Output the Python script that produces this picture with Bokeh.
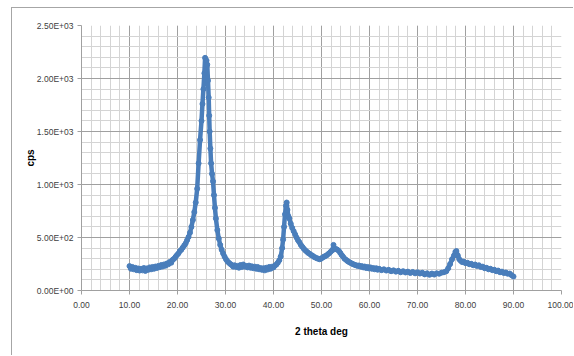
from bokeh.plotting import figure
from bokeh.models import FixedTicker, Range1d
from bokeh.embed import file_html
from bokeh.resources import INLINE

two_theta = [
    10.0, 10.3, 10.6, 10.9, 11.2, 11.5, 11.8, 12.1, 12.4, 12.7, 13.0, 13.3, 13.6, 13.9,
    14.2, 14.5, 14.8, 15.1, 15.4, 15.7, 16.0, 16.3, 16.6, 16.9, 17.2, 17.5, 17.8, 18.1,
    18.4, 18.7, 19.0, 19.3, 19.6, 19.9, 20.2, 20.5, 20.8, 21.1, 21.4, 21.7, 22.0, 22.3,
    22.6, 22.9, 23.2, 23.5, 23.8, 24.1, 24.4, 24.7, 25.0, 25.2, 25.4, 25.6, 25.75, 25.9,
    26.05, 26.2, 26.35, 26.5, 26.6, 26.7, 26.85, 27.0, 27.2, 27.4, 27.6, 27.8, 28.0, 28.3,
    28.6, 28.9, 29.2, 29.5, 29.8, 30.1, 30.4, 30.7, 31.0, 31.3, 31.6, 31.9, 32.2, 32.5,
    32.8, 33.1, 33.4, 33.7, 34.0, 34.3, 34.6, 34.9, 35.2, 35.5, 35.8, 36.1, 36.4, 36.7,
    37.0, 37.3, 37.6, 37.9, 38.2, 38.5, 38.8, 39.1, 39.4, 39.7, 40.0, 40.3, 40.6, 40.9,
    41.2, 41.5, 41.8, 42.0, 42.2, 42.4, 42.6, 42.75, 42.9, 43.1, 43.3, 43.6, 43.9, 44.2,
    44.5, 44.8, 45.1, 45.4, 45.7, 46.0, 46.3, 46.6, 46.9, 47.2, 47.5, 47.8, 48.1, 48.4,
    48.7, 49.0, 49.3, 49.6, 49.9, 50.2, 50.5, 50.8, 51.1, 51.4, 51.7, 52.0, 52.3, 52.5,
    52.7, 53.0, 53.3, 53.6, 53.9, 54.2, 54.5, 54.8, 55.1, 55.4, 55.7, 56.0, 56.3, 56.6,
    56.9, 57.2, 57.5, 57.8, 58.1, 58.4, 58.7, 59.0, 59.3, 59.6, 59.9, 60.2, 60.5, 60.8,
    61.1, 61.4, 61.7, 62.0, 62.5, 63.0, 63.5, 64.0, 64.5, 65.0, 65.5, 66.0, 66.5, 67.0,
    67.5, 68.0, 68.5, 69.0, 69.5, 70.0, 70.5, 71.0, 71.5, 72.0, 72.5, 73.0, 73.5, 74.0,
    74.5, 75.0, 75.5, 76.0, 76.4, 76.8, 77.2, 77.6, 77.9, 78.1, 78.4, 78.7, 79.0, 79.3,
    79.6, 80.0, 80.4, 80.8, 81.2, 81.6, 82.0, 82.4, 82.8, 83.2, 83.6, 84.0, 84.4, 84.8,
    85.2, 85.6, 86.0, 86.4, 86.8, 87.2, 87.6, 88.0, 88.4, 88.8, 89.2, 89.6, 90.0,
]
cps = [
    230, 205, 222, 200, 214, 192, 208, 188, 205, 190, 212, 185, 208, 195,
    218, 200, 222, 205, 226, 212, 232, 220, 240, 226, 246, 234, 255, 248,
    270, 262, 290, 300, 318, 335, 350, 372, 385, 405, 425, 445, 475, 505,
    545, 600, 665, 740, 830, 960, 1200, 1420, 1600, 1760, 1900, 2050, 2195, 2080,
    2170, 2130, 1980, 1820, 1650, 1500, 1340, 1200, 1100, 1030, 900, 780, 680, 570,
    490, 430, 385, 350, 320, 295, 275, 262, 250, 240, 225, 238, 222, 232,
    215, 240, 222, 245, 225, 232, 218, 235, 215, 228, 210, 225, 205, 222,
    200, 212, 195, 210, 190, 215, 198, 222, 205, 225, 218, 235, 245, 262,
    285, 320, 400, 480, 600, 720, 800, 830, 760, 700, 680, 630, 590, 560,
    530, 500, 475, 455, 430, 412, 395, 380, 368, 355, 348, 335, 330, 318,
    312, 305, 300, 295, 300, 310, 318, 325, 332, 345, 355, 370, 382, 430,
    390, 392, 385, 375, 355, 335, 318, 300, 290, 278, 270, 262, 255, 248,
    242, 238, 232, 236, 225, 230, 218, 226, 212, 222, 208, 218, 205, 212,
    200, 210, 196, 205, 192, 200, 188, 195, 182, 190, 178, 186, 172, 182,
    170, 178, 165, 175, 162, 172, 160, 168, 152, 162, 148, 160, 150, 162,
    158, 168, 172, 182, 210, 250, 295, 330, 365, 372, 330, 295, 280, 268,
    272, 258, 262, 248, 252, 238, 245, 232, 238, 222, 225, 210, 214, 200,
    205, 192, 196, 182, 188, 172, 178, 165, 170, 158, 160, 145, 132,
]

x_ticks = [0, 10, 20, 30, 40, 50, 60, 70, 80, 90, 100]
x_tick_labels = ["0.00", "10.00", "20.00", "30.00", "40.00", "50.00",
                 "60.00", "70.00", "80.00", "90.00", "100.00"]
x_minor = [0, 2, 4, 6, 8, 10, 12, 14, 16, 18, 20, 22, 24, 26, 28, 30, 32, 34, 36, 38,
           40, 42, 44, 46, 48, 50, 52, 54, 56, 58, 60, 62, 64, 66, 68, 70, 72, 74, 76,
           78, 80, 82, 84, 86, 88, 90, 92, 94, 96, 98, 100]
y_ticks = [0, 500, 1000, 1500, 2000, 2500]
y_tick_labels = ["0.00E+00", "5.00E+02", "1.00E+03", "1.50E+03", "2.00E+03", "2.50E+03"]
y_minor = list(range(0, 2501, 100))

p = figure(width=562, height=348, output_backend="svg", toolbar_location=None,
           x_range=Range1d(0, 100), y_range=Range1d(0, 2500),
           min_border_left=69, min_border_right=13, min_border_top=17, min_border_bottom=66)
p.margin = (7, 0, 0, 11)
p.styles = {"border-top": "1px solid #a6a6a6", "border-left": "1px solid #a6a6a6"}
p.outline_line_color = None
p.background_fill_color = "white"
p.border_fill_color = "white"

xt = FixedTicker(ticks=x_ticks, minor_ticks=x_minor)
yt = FixedTicker(ticks=y_ticks, minor_ticks=y_minor)
p.xaxis.ticker = xt
p.yaxis.ticker = yt
p.xgrid.ticker = xt
p.ygrid.ticker = yt
for g in (p.xgrid, p.ygrid):
    g.grid_line_color = "#a0a0a0"
    g.grid_line_width = 1
    g.minor_grid_line_color = "#d4d4d4"
    g.minor_grid_line_width = 1

p.xaxis.major_label_overrides = {t: s for t, s in zip(x_ticks, x_tick_labels)}
p.yaxis.major_label_overrides = {t: s for t, s in zip(y_ticks, y_tick_labels)}

for ax in (p.xaxis, p.yaxis):
    ax.axis_line_color = "#a0a0a0"
    ax.major_tick_line_color = "#a0a0a0"
    ax.major_tick_out = 4
    ax.major_tick_in = 0
    ax.minor_tick_out = 0
    ax.minor_tick_in = 0
    ax.major_label_text_font = "Liberation Sans"
    ax.major_label_text_font_size = "8.5px"
    ax.major_label_text_color = "#404040"
    ax.axis_label_text_font = "Liberation Sans"
    ax.axis_label_text_font_style = "bold"
    ax.axis_label_text_font_size = "10px"
    ax.axis_label_text_color = "#000000"

p.xaxis.axis_label = "2 theta deg"
p.yaxis.axis_label = "cps"
p.xaxis.major_label_standoff = 7
p.xaxis.axis_label_standoff = 15
p.yaxis.major_label_standoff = 4
p.yaxis.axis_label_standoff = -2

p.line(two_theta, cps, line_color="#4a7ebb", line_width=4.5)
p.scatter(two_theta, cps, size=5, color="#4a7ebb")

open("out.html", "w").write(file_html(p, INLINE))
